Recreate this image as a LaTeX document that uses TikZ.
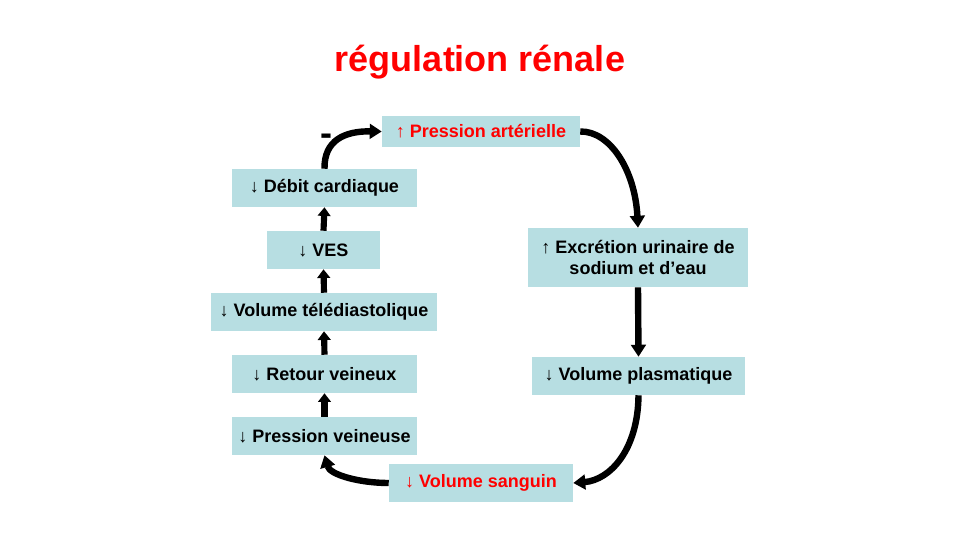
\documentclass[tikz,border=0pt]{standalone}
\usepackage{fontspec}
\setmainfont{Liberation Sans}
\usetikzlibrary{arrows.meta}
\definecolor{boxfill}{RGB}{183,222,226}
\definecolor{titlered}{RGB}{255,0,0}
\begin{document}
\begin{tikzpicture}[x=0.75pt,y=-0.75pt,
  box/.style={fill=boxfill,draw=none,inner sep=0pt,align=center,font=\fontsize{13.5}{15.5}\selectfont\bfseries},
  redtext/.style={text=titlered},
  bigarrow/.style={line width=4.8pt,-{Triangle[length=9pt,width=11pt]}},
  smallarrow/.style={line width=4.6pt,-{Triangle[length=6.5pt,width=9.5pt]}}]
\useasboundingbox (0,0) rectangle (960,540);
\node[text=titlered,font=\fontsize{27}{31}\selectfont\bfseries] (title) at (480,62) {régulation rénale};
\node[box,redtext,minimum width=198*0.75pt,minimum height=31*0.75pt] (pa) at (481,131.5) {↑ Pression artérielle};
\node[box,minimum width=185*0.75pt,minimum height=38*0.75pt] (dc) at (324.5,188) {↓ Débit cardiaque};
\node[box,minimum width=113*0.75pt,minimum height=38*0.75pt] (ves) at (323.5,250) {↓ VES};
\node[box,minimum width=226*0.75pt,minimum height=38*0.75pt] (vtd) at (324,312) {↓ Volume télédiastolique};
\node[box,minimum width=185*0.75pt,minimum height=38*0.75pt] (rv) at (324.5,374) {↓ Retour veineux};
\node[box,minimum width=185*0.75pt,minimum height=38*0.75pt] (pv) at (324.5,436) {↓ Pression veineuse};
\node[box,redtext,minimum width=184*0.75pt,minimum height=38*0.75pt] (vs) at (481,483) {↓ Volume sanguin};
\node[box,minimum width=220*0.75pt,minimum height=59*0.75pt] (exc) at (638,257.5) {↑ Excrétion urinaire de\\sodium et d’eau};
\node[box,minimum width=213*0.75pt,minimum height=38*0.75pt] (vp) at (638.5,376) {↓ Volume plasmatique};
\node[font=\fontsize{27}{31}\selectfont\bfseries] (minus) at (326,140) {-};
% straight arrows
\draw[smallarrow] (pv.north) -- (rv.south);
\draw[smallarrow] (rv.north) -- (vtd.south);
\draw[smallarrow] (vtd.north) -- (ves.south);
\draw[smallarrow] (ves.north) -- (dc.south);
\draw[bigarrow] (exc.south) -- (vp.north);
% curved arrows
\draw[bigarrow] (dc.north) .. controls (324,140) and (345,131) .. (pa.west);
\draw[bigarrow] (pa.east) .. controls (610,131) and (635,170) .. (exc.north);
\draw[bigarrow] (vp.south) .. controls (638,450) and (610,480) .. (vs.east);
\draw[bigarrow] (vs.west) .. controls (360,483) and (330,475) .. (pv.south);
\end{tikzpicture}
\end{document}
